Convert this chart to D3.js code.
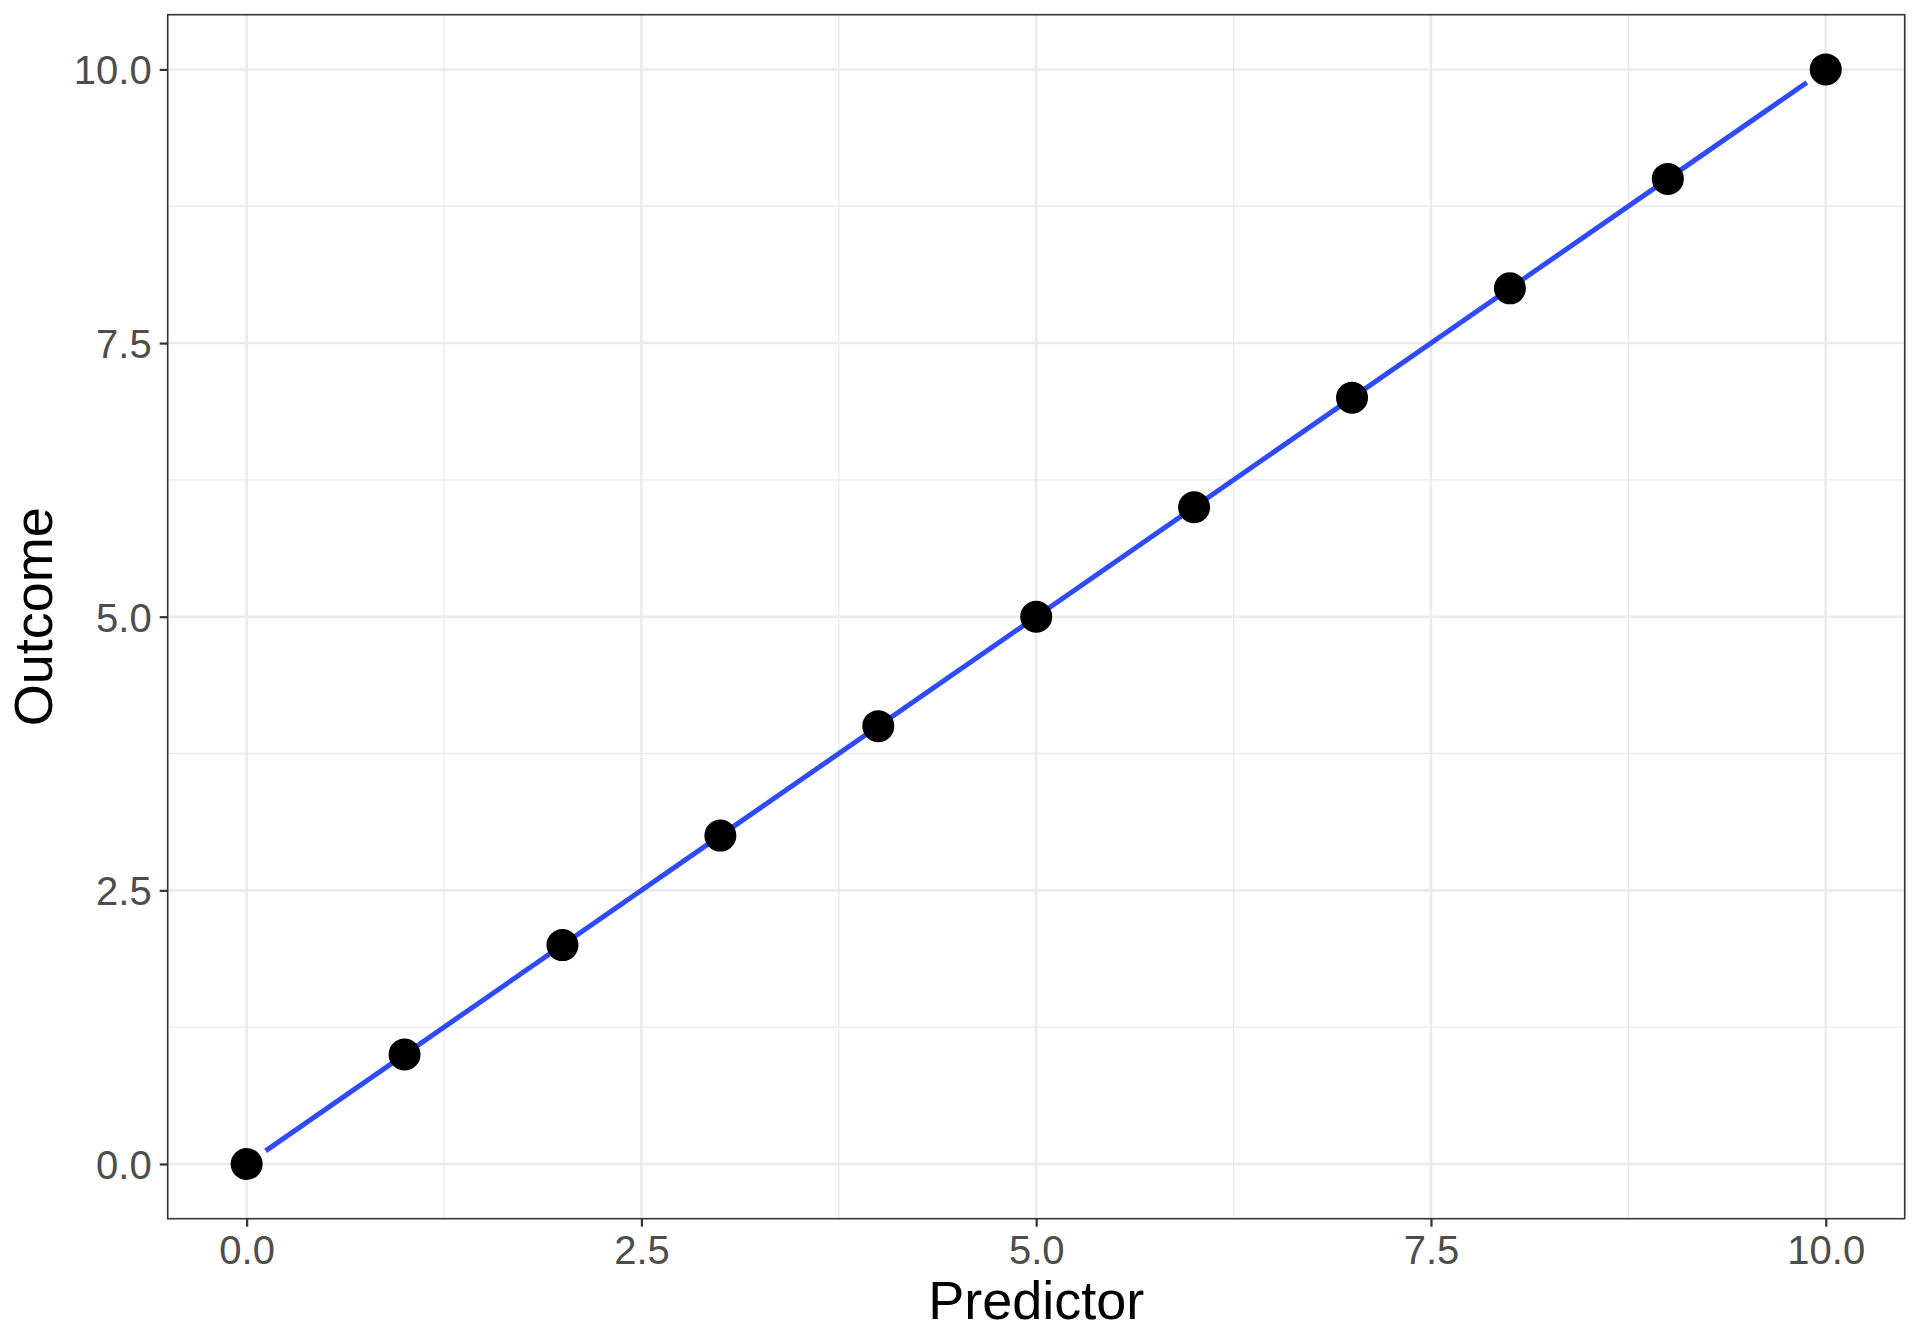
<!DOCTYPE html>
<html>
<head>
<meta charset="utf-8">
<script src="https://cdn.jsdelivr.net/npm/d3@7"></script>
<style>
  html, body { margin: 0; padding: 0; background: #fff; }
  svg { display: block; font-family: "Liberation Sans", Arial, Helvetica, sans-serif; }
</style>
</head>
<body>
<svg id="chart" width="1920" height="1344"></svg>
<script>
const predictor = [0, 1, 2, 3, 4, 5, 6, 7, 8, 9, 10];
const outcome   = [0, 1, 2, 3, 4, 5, 6, 7, 8, 9, 10];
const fitX = [0.12, 9.88];
const fitY = [0.12, 9.88];
const xTicks = [0, 2.5, 5, 7.5, 10];
const yTicks = [0, 2.5, 5, 7.5, 10];
const xMinor = [1.25, 3.75, 6.25, 8.75];
const yMinor = [1.25, 3.75, 6.25, 8.75];
const xTitle = "Predictor";
const yTitle = "Outcome";

(function () {
const svg = d3.select("#chart");
const pL = 167.7, pR = 1904.7, pT = 14.7, pB = 1218.7;

const x = d3.scaleLinear().domain([-0.5, 10.5]).range([pL, pR]);
const y = d3.scaleLinear().domain([-0.5, 10.5]).range([pB, pT]);

const grid = svg.append("g");
grid.selectAll("line.xmin").data(xMinor).join("line").attr("class", "xmin")
  .attr("x1", d => x(d)).attr("x2", d => x(d)).attr("y1", pT).attr("y2", pB)
  .attr("stroke", "#EBEBEB").attr("stroke-width", 1.3);
grid.selectAll("line.ymin").data(yMinor).join("line").attr("class", "ymin")
  .attr("y1", d => y(d)).attr("y2", d => y(d)).attr("x1", pL).attr("x2", pR)
  .attr("stroke", "#EBEBEB").attr("stroke-width", 1.3);
grid.selectAll("line.xmaj").data(xTicks).join("line").attr("class", "xmaj")
  .attr("x1", d => x(d)).attr("x2", d => x(d)).attr("y1", pT).attr("y2", pB)
  .attr("stroke", "#EBEBEB").attr("stroke-width", 2.6);
grid.selectAll("line.ymaj").data(yTicks).join("line").attr("class", "ymaj")
  .attr("y1", d => y(d)).attr("y2", d => y(d)).attr("x1", pL).attr("x2", pR)
  .attr("stroke", "#EBEBEB").attr("stroke-width", 2.6);

// fitted line
svg.append("path")
  .datum(fitX.map((v, i) => [v, fitY[i]]))
  .attr("d", d3.line().x(d => x(d[0])).y(d => y(d[1])))
  .attr("fill", "none").attr("stroke", "#2E4BFF").attr("stroke-width", 5);

// points
svg.append("g").selectAll("circle").data(predictor).join("circle")
  .attr("cx", d => x(d)).attr("cy", (d, i) => y(outcome[i])).attr("r", 16)
  .attr("fill", "#000");

// panel border
svg.append("rect").attr("x", pL).attr("y", pT)
  .attr("width", pR - pL).attr("height", pB - pT)
  .attr("fill", "none").attr("stroke", "#333333").attr("stroke-width", 1.6);

// axes
const fmt = d3.format(".1f");
const xAxis = svg.append("g").attr("transform", `translate(0,${pB})`)
  .call(d3.axisBottom(x).tickValues(xTicks).tickFormat(fmt).tickSize(8).tickPadding(7));
const yAxis = svg.append("g").attr("transform", `translate(${pL},0)`)
  .call(d3.axisLeft(y).tickValues(yTicks).tickFormat(fmt).tickSize(8).tickPadding(8));
[xAxis, yAxis].forEach(a => {
  a.select(".domain").remove();
  a.selectAll(".tick line").attr("stroke", "#333333").attr("stroke-width", 2.2);
  a.selectAll(".tick text").attr("fill", "#4D4D4D").attr("font-size", 40)
    .attr("font-family", "'Liberation Sans', Arial, sans-serif");
});
xAxis.selectAll(".tick text").attr("dy", null).attr("y", 1264 - pB);
yAxis.selectAll(".tick text").attr("dy", "0.36em");

// titles
svg.append("text").attr("x", (pL + pR) / 2).attr("y", 1319)
  .attr("text-anchor", "middle").attr("font-size", 54).attr("fill", "#000")
  .text(xTitle);
svg.append("text")
  .attr("transform", `translate(52,${(pT + pB) / 2}) rotate(-90)`)
  .attr("text-anchor", "middle").attr("font-size", 54).attr("fill", "#000")
  .text(yTitle);
})();
</script>
</body>
</html>
